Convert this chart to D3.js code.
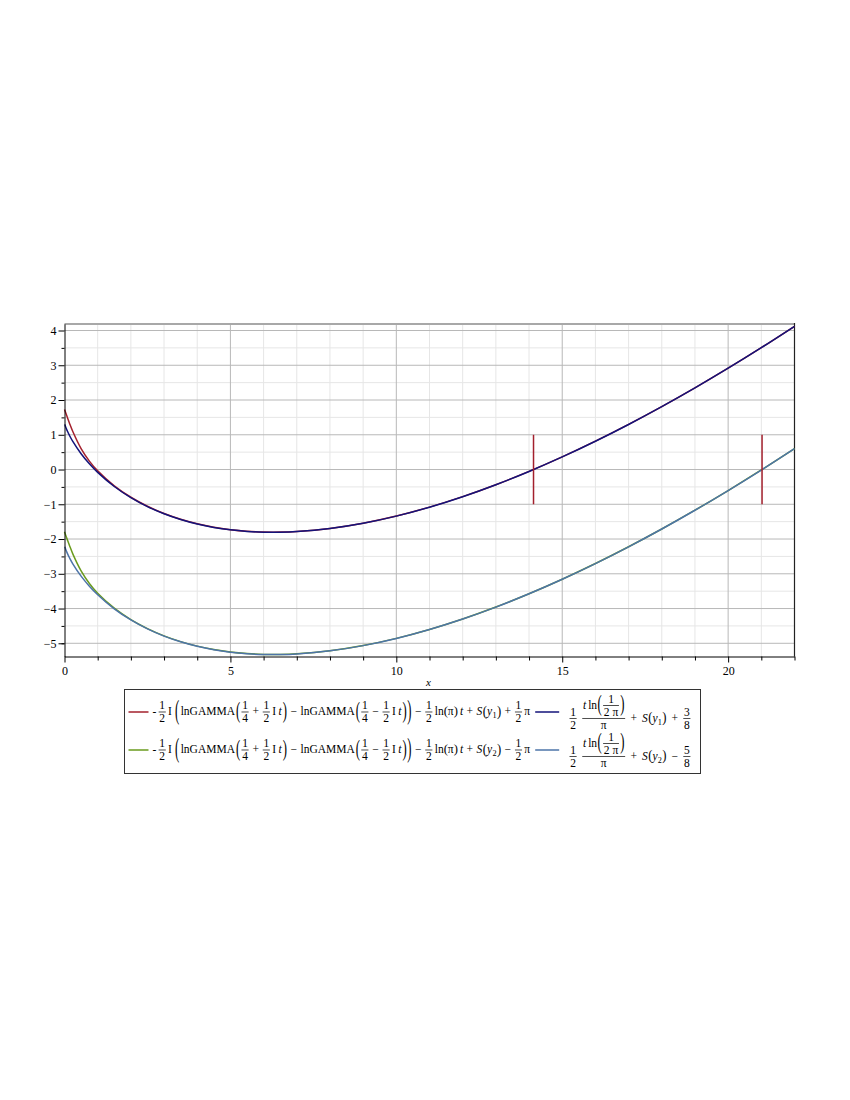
<!DOCTYPE html>
<html><head><meta charset="utf-8">
<script src="https://cdn.jsdelivr.net/npm/d3@7"></script>
<style>body{margin:0;background:#fff}svg{display:block}</style>
</head><body>
<svg id="chart" width="850" height="1100"></svg>
<script>
// ---- data ----
const xExact  = [0,0.02,0.05,0.1,0.15,0.25,0.5,0.75,1,1.5,2,2.5,3,3.5,4,4.5,5,5.5,6,6.5,7,8,9,10,11,12,13,14,15,16,17,18,19,20,21,22];
const xApprox = [0.01,0.02,0.05,0.1,0.15,0.25,0.5,0.75,1,1.5,2,2.5,3,3.5,4,4.5,5,5.5,6,6.5,7,8,9,10,11,12,13,14,15,16,17,18,19,20,21,22];
const upperExact  = [1.7287,1.6750,1.5947,1.4628,1.3344,1.0940,0.6037,0.2425,-0.0388,-0.4696,-0.7982,-1.0576,-1.2659,-1.4320,-1.5619,-1.6604,-1.7309,-1.7763,-1.7989,-1.8005,-1.7829,-1.6951,-1.5446,-1.3384,-1.0820,-0.7801,-0.4364,-0.0543,0.3637,0.8150,1.2976,1.8096,2.3494,2.9156,3.5068,4.1218];
const upperApprox = [1.2988,1.2685,1.1902,1.0790,0.9809,0.8080,0.4532,0.1639,-0.0829,-0.4883,-0.8087,-1.0660,-1.2729,-1.4380,-1.5672,-1.6651,-1.7351,-1.7801,-1.8024,-1.8037,-1.7859,-1.6977,-1.5469,-1.3405,-1.0839,-0.7818,-0.4380,-0.0557,0.3623,0.8137,1.2964,1.8085,2.3483,2.9146,3.5058,4.1208];
const lowerExact  = [-1.7914,-1.8451,-1.9254,-2.0573,-2.1857,-2.4261,-2.9164,-3.2776,-3.5589,-3.9897,-4.3183,-4.5777,-4.7860,-4.9521,-5.0820,-5.1805,-5.2510,-5.2964,-5.3190,-5.3206,-5.3030,-5.2152,-5.0647,-4.8585,-4.6021,-4.3002,-3.9565,-3.5744,-3.1564,-2.7051,-2.2225,-1.7105,-1.1707,-0.6045,-0.0133,0.6017];
const lowerApprox = [-2.2213,-2.2516,-2.3299,-2.4411,-2.5392,-2.7121,-3.0669,-3.3562,-3.6030,-4.0084,-4.3288,-4.5861,-4.7930,-4.9581,-5.0873,-5.1852,-5.2552,-5.3002,-5.3225,-5.3238,-5.3060,-5.2178,-5.0670,-4.8606,-4.6040,-4.3019,-3.9581,-3.5758,-3.1578,-2.7064,-2.2237,-1.7116,-1.1718,-0.6047,-0.0143,0.6007];
const zeroMarks = [14.1347, 21.0220];
const zeroMarkSpan = [-1, 1];
const xTickVals = [0,5,10,15,20];
const xTickLabels = ['0','5','10','15','20'];
const xMinorVals = [1,2,3,4,6,7,8,9,11,12,13,14,16,17,18,19,21,22];
const yTickVals = [-5,-4,-3,-2,-1,0,1,2,3,4];
const yTickLabels = ['\u22125','\u22124','\u22123','\u22122','\u22121','0','1','2','3','4'];
const yMinorVals = [-5,-4.5,-3.5,-2.5,-1.5,-0.5,0.5,1.5,2.5,3.5];
const xAxisTitle = 'x';

// ---- layout ----
const svg = d3.select('#chart');
const FONT = "'Liberation Serif','Times New Roman',Times,serif";
const L = 64.5, R = 794.5, T = 323.9, B = 656.5;
const x = d3.scaleLinear().domain([0,22]).range([L,R]);
const y = d3.scaleLinear().domain([-5.38,4.19]).range([B,T]);

const colRed = '#A3202D', colNavy = '#13137A', colGreen = '#6A9B1E', colBlue = '#4D74A8';

// grid
const grid = svg.append('g');
const xMinorGrid = d3.range(1,23).filter(v => v % 5 !== 0);
const yMinorGrid = d3.range(-5,4.5,0.5).filter(v => !Number.isInteger(v));
grid.selectAll('.vm').data(xMinorGrid).join('line')
  .attr('x1',d=>x(d)).attr('x2',d=>x(d)).attr('y1',T).attr('y2',B)
  .attr('stroke','#e6e6e6').attr('stroke-width',1);
grid.selectAll('.hm').data(yMinorGrid).join('line')
  .attr('x1',L).attr('x2',R).attr('y1',d=>y(d)).attr('y2',d=>y(d))
  .attr('stroke','#e6e6e6').attr('stroke-width',1);
grid.selectAll('.vM').data(xTickVals.filter(v=>v>0)).join('line')
  .attr('x1',d=>x(d)).attr('x2',d=>x(d)).attr('y1',T).attr('y2',B)
  .attr('stroke','#b8b8b8').attr('stroke-width',1);
grid.selectAll('.hM').data(yTickVals).join('line')
  .attr('x1',L).attr('x2',R).attr('y1',d=>y(d)).attr('y2',d=>y(d))
  .attr('stroke','#b8b8b8').attr('stroke-width',1);

// frame top/right
svg.append('line').attr('x1',L).attr('x2',R+0.5).attr('y1',T).attr('y2',T).attr('stroke','#a8a8a8').attr('stroke-width',2);
svg.append('line').attr('x1',R).attr('x2',R).attr('y1',T-1).attr('y2',B).attr('stroke','#222').attr('stroke-width',1.2);

// curves
const line = (xs) => d3.line().x((d,i)=>x(xs[i])).y(d=>y(d)).curve(d3.curveCatmullRom.alpha(0.5));
const plot = svg.append('g').attr('fill','none').attr('stroke-width',1.5);
plot.append('path').attr('d', line(xExact)(upperExact)).attr('stroke',colRed);
plot.append('path').attr('d', line(xApprox)(upperApprox)).attr('stroke',colNavy);
plot.append('path').attr('d', line(xExact)(lowerExact)).attr('stroke',colGreen);
plot.append('path').attr('d', line(xApprox)(lowerApprox)).attr('stroke',colBlue);
plot.selectAll('.zm').data(zeroMarks).join('line')
  .attr('x1',d=>x(d)).attr('x2',d=>x(d)).attr('y1',y(zeroMarkSpan[0])).attr('y2',y(zeroMarkSpan[1]))
  .attr('stroke',colRed).attr('stroke-width',1.5);

// axes
function styleAxis(g){
  g.attr('font-family',FONT).attr('font-size',12);
  g.selectAll('.tick text').attr('fill','#000').attr('font-family',FONT);
  g.selectAll('.tick line').attr('stroke','#000');
  g.select('.domain').attr('stroke','#000');
}
const xMinorAx = svg.append('g').attr('transform',`translate(0,${B})`)
  .call(d3.axisBottom(x).tickValues(xMinorVals).tickFormat('').tickSize(4).tickSizeOuter(0));
styleAxis(xMinorAx); xMinorAx.select('.domain').remove();
const xAx = svg.append('g').attr('transform',`translate(0,${B})`)
  .call(d3.axisBottom(x).tickValues(xTickVals).tickFormat((d,i)=>xTickLabels[i]).tickSize(6).tickPadding(4).tickSizeOuter(0));
styleAxis(xAx);
const yMinorAx = svg.append('g').attr('transform',`translate(${L},0)`)
  .call(d3.axisLeft(y).tickValues(yMinorVals).tickFormat('').tickSize(3).tickSizeOuter(0));
styleAxis(yMinorAx); yMinorAx.select('.domain').remove();
const yAx = svg.append('g').attr('transform',`translate(${L},0)`)
  .call(d3.axisLeft(y).tickValues(yTickVals).tickFormat((d,i)=>yTickLabels[i]).tickSize(6).tickPadding(2).tickSizeOuter(0));
styleAxis(yAx);
svg.append('text').attr('x',(L+R)/2 - 1).attr('y',686).attr('text-anchor','middle')
  .attr('font-family',FONT).attr('font-style','italic').attr('font-size',11).text(xAxisTitle);

// ---- legend (typeset math) ----
const fs = 11.5, AX = 0.27*fs;
function Tx(s, opt={}) { return g => {
  const sz = opt.size || fs;
  const t = g.append('text').text(s).attr('font-family',FONT).attr('font-size',sz)
    .attr('font-style', opt.it ? 'italic' : 'normal').attr('fill','#000');
  return {w: t.node().getComputedTextLength(), asc: 0.68*sz, desc: 0.05*sz};
};}
function H(...items){ return g => {
  let cx = 0, asc = 0, desc = 0;
  for (const it of items){
    if (typeof it === 'number'){ cx += it; continue; }
    const sub = g.append('g').attr('transform',`translate(${cx},0)`);
    const m = it(sub); cx += m.w; asc = Math.max(asc,m.asc); desc = Math.max(desc,m.desc);
  }
  return {w: cx, asc, desc};
};}
function F(num, den, gap=2.3){ return g => {
  const ng = g.append('g'), dg = g.append('g');
  const nm = num(ng), dm = den(dg);
  const w = Math.max(nm.w, dm.w) + 2;
  const nb = -AX - gap - nm.desc, db = -AX + gap + dm.asc;
  ng.attr('transform',`translate(${(w-nm.w)/2},${nb})`);
  dg.attr('transform',`translate(${(w-dm.w)/2},${db})`);
  g.append('line').attr('x1',0.3).attr('x2',w-0.3).attr('y1',-AX).attr('y2',-AX).attr('stroke','#000').attr('stroke-width',0.7);
  return {w, asc: AX+gap+nm.desc+nm.asc, desc: -AX+gap+dm.asc+dm.desc};
};}
function P(s, k){ return g => {
  const base = -AX + 0.255*fs*k;
  const t = g.append('text').text(s).attr('font-family',FONT).attr('font-size',fs).attr('fill','#000')
    .attr('transform',`translate(0,${base}) scale(1.1,${k})`);
  const w = t.node().getComputedTextLength()*1.1;
  return {w, asc: AX + 0.435*fs*k, desc: -AX + 0.435*fs*k};
};}
function Sub(s){ return g => {
  const t = g.append('text').text(s).attr('font-family',FONT).attr('font-size',fs*0.72).attr('y',2.9).attr('fill','#000');
  return {w: t.node().getComputedTextLength(), asc: 0.5*fs, desc: 0.3*fs};
};}
const it = {it:true};
const half = () => F(Tx('1'),Tx('2'));
const Sy = (n) => H(Tx('S',it), 0.5, P('(',1.3), Tx('y',it), 0.3, Sub(n), 0.3, P(')',1.3));
const lnG = (op) => H(Tx('lnGAMMA'), 1, P('(',2.0), 1, F(Tx('1'),Tx('4')), 3.5, Tx(op), 3.5, half(), 2, Tx('I'), 2.5, Tx('t',it), 1, P(')',2.0));
const expr1 = (op, n) => H(Tx('-'), 2, half(), 2, Tx('I'), 3, P('(',2.3), 1.5,
  lnG('+'), 3.5, Tx('\u2212'), 3.5, lnG('\u2212'), 0.5, P(')',2.3), 3.5, Tx('\u2212'), 3.5, half(), 2,
  Tx('ln'), P('(',1.15), Tx('\u03c0'), P(')',1.15), 2, Tx('t',it), 3.5, Tx('+'), 3.5, Sy(n), 3.5, Tx(op), 3.5, half(), 2, Tx('\u03c0'));
const expr2 = (op, n, c) => H(half(), 5,
  F(H(Tx('t',it), 2, Tx('ln'), 0.5, P('(',2.0), 1, F(Tx('1'),Tx('2 \u03c0')), 1, P(')',2.0)), Tx('\u03c0')),
  5, Tx('+'), 5, Sy(n), 5, Tx(op), 5, F(Tx(c[0]),Tx(c[1])));

const legendRows = [
  {c1: colRed, c2: colNavy, e1: expr1('+','1'), e2: expr2('+','1','38'), yc: 712},
  {c1: colGreen, c2: colBlue, e1: expr1('\u2212','2'), e2: expr2('\u2212','2','58'), yc: 750}
];
const lg = svg.append('g');
const boxL = 124.5, boxT = 689.5, boxB = 773.5;
let maxRight = 0;
legendRows.forEach(r => {
  let cx = boxL + 4;
  lg.append('line').attr('x1',cx).attr('x2',cx+20).attr('y1',r.yc).attr('y2',r.yc).attr('stroke',r.c1).attr('stroke-width',1.5);
  cx += 24;
  const g1 = lg.append('g');
  const m1 = r.e1(g1);
  g1.attr('transform',`translate(${cx},${r.yc - (m1.desc - m1.asc)/2})`);
  cx += m1.w + 5;
  lg.append('line').attr('x1',cx).attr('x2',cx+24).attr('y1',r.yc).attr('y2',r.yc).attr('stroke',r.c2).attr('stroke-width',1.5);
  cx += 34;
  const g2 = lg.append('g');
  const m2 = r.e2(g2);
  g2.attr('transform',`translate(${cx},${r.yc - (m2.desc - m2.asc)/2})`);
  cx += m2.w;
  maxRight = Math.max(maxRight, cx);
});
lg.insert('rect',':first-child').attr('x',boxL).attr('y',boxT).attr('width',Math.round(maxRight + 10 - boxL)).attr('height',boxB-boxT)
  .attr('fill','#fff').attr('stroke','#333').attr('stroke-width',1);
</script>
</body></html>
